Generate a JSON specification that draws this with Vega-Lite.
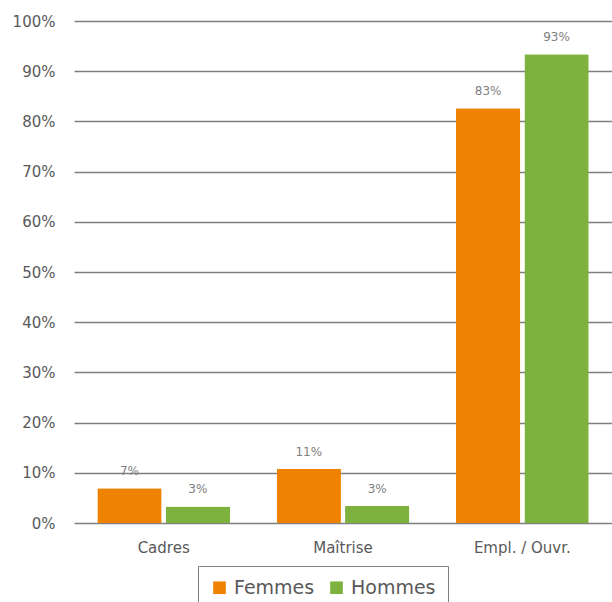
{
  "$schema": "https://vega.github.io/schema/vega-lite/v6.json",
  "autosize": "none",
  "width": 538,
  "height": 502,
  "padding": {"left": 74, "top": 21, "right": 0, "bottom": 79},
  "background": "white",
  "config": {"view": {"stroke": null}, "font": "DejaVu Sans"},
  "data": {
    "values": [
      {"categorie": "Cadres", "sexe": "Femmes", "part": 0.069},
      {"categorie": "Cadres", "sexe": "Hommes", "part": 0.033},
      {"categorie": "Maîtrise", "sexe": "Femmes", "part": 0.108},
      {"categorie": "Maîtrise", "sexe": "Hommes", "part": 0.034},
      {"categorie": "Empl. / Ouvr.", "sexe": "Femmes", "part": 0.826},
      {"categorie": "Empl. / Ouvr.", "sexe": "Hommes", "part": 0.934}
    ]
  },
  "encoding": {
    "x": {
      "field": "categorie", "type": "nominal", "sort": null,
      "scale": {"paddingInner": 0.26, "paddingOuter": 0.13},
      "axis": {"title": null, "labelAngle": 0, "domain": false, "ticks": false, "labelFontSize": 15, "labelColor": "#595959", "labelPadding": 17}
    },
    "xOffset": {"field": "sexe", "type": "nominal", "scale": {"paddingInner": 0.06}},
    "y": {
      "field": "part", "type": "quantitative",
      "scale": {"domain": [0, 1], "nice": false},
      "axis": {"title": null, "format": ".0%", "values": [0,0.1,0.2,0.3,0.4,0.5,0.6,0.7,0.8,0.9,1], "domain": false, "ticks": false, "grid": true, "gridColor": "#7f7f7f", "gridWidth": 1.5, "labelFontSize": 15, "labelColor": "#595959", "labelPadding": 19}
    }
  },
  "layer": [
    {
      "mark": {"type": "bar", "cornerRadius": 1},
      "encoding": {
        "color": {
          "field": "sexe", "type": "nominal",
          "scale": {"domain": ["Femmes", "Hommes"], "range": ["#EF8200", "#7DB23F"]},
          "legend": {
            "title": null, "orient": "none", "legendX": 124, "legendY": 545,
            "direction": "horizontal", "columns": 2,
            "strokeColor": "#808080", "padding": 12,
            "symbolType": "square", "symbolSize": 160, "symbolStrokeWidth": 0,
            "labelFontSize": 19, "labelColor": "#595959", "labelOffset": 5,
            "columnPadding": 12, "labelLimit": 200
          }
        }
      }
    },
    {
      "mark": {"type": "text", "baseline": "middle", "dy": -17, "fontSize": 12, "color": "#808080"},
      "encoding": {"text": {"field": "part", "type": "quantitative", "format": ".0%"}}
    }
  ]
}
